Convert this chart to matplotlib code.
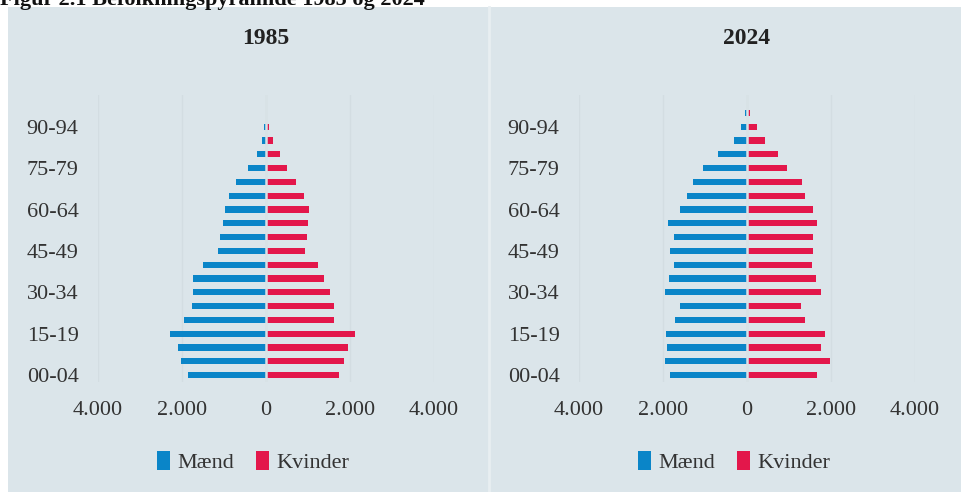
import matplotlib
matplotlib.use("Agg")
import matplotlib.pyplot as plt
from matplotlib.patches import Rectangle, Patch

age_groups = ["00-04", "05-09", "10-14", "15-19", "20-24", "25-29", "30-34", "35-39",
              "40-44", "45-49", "50-54", "55-59", "60-64", "65-69", "70-74", "75-79",
              "80-84", "85-89", "90-94", "95+"]
tick_labels = ["00-04", "15-19", "30-34", "45-49", "60-64", "75-79", "90-94"]

men_1985 = [1865, 2032, 2103, 2278, 1952, 1770, 1746, 1738, 1492, 1143,
            1095, 1015, 975, 890, 715, 430, 222, 95, 40, 4]
women_1985 = [1738, 1865, 1960, 2127, 1619, 1619, 1516, 1389, 1230, 937,
              970, 1000, 1030, 905, 705, 500, 325, 165, 60, 6]
men_2024 = [1825, 1950, 1905, 1930, 1720, 1590, 1950, 1865, 1750, 1825,
            1750, 1880, 1590, 1430, 1295, 1040, 690, 310, 135, 45]
women_2024 = [1655, 1970, 1760, 1865, 1370, 1290, 1760, 1640, 1545, 1560,
              1560, 1655, 1560, 1385, 1305, 960, 735, 440, 240, 80]

x_ticks = [-4000, -2000, 0, 2000, 4000]
x_ticklabels = ["4.000", "2.000", "0", "2.000", "4.000"]

BG = "#dbe5ea"
BLUE = "#0a85c8"
RED = "#e3174b"
GRID = "#d3dde2"
TXT = "#333333"
SERIF = ["Liberation Serif", "DejaVu Serif"]

fig = plt.figure(figsize=(9.61, 4.92), dpi=100)
fig.patch.set_facecolor("white")

W, H = 961, 492
fig.patches.append(Rectangle((8 / W, 0), 1 - 8 / W, 1 - 7 / H, transform=fig.transFigure,
                             facecolor=BG, edgecolor="none", zorder=-10))
fig.lines.append(plt.Line2D([489 / W, 489 / W], [0, 1 - 7 / H], transform=fig.transFigure,
                            color="#e8eef1", lw=2, zorder=-9))

fig.text(0.0, 1 - 5 / H, "Figur 2.1 Befolkningspyramide 1985 og 2024", ha="left", va="baseline",
         fontsize=16, fontweight="bold", family=SERIF, color="#111111")

panels = [("1985", men_1985, women_1985, 98), ("2024", men_2024, women_2024, 579)]
ypos = list(range(len(age_groups)))
tick_pos = [age_groups.index(t) for t in tick_labels]

for title, men, women, left_px in panels:
    ax = fig.add_axes([left_px / W, 1 - 382 / H, 336 / W, (382 - 95) / H])
    ax.set_facecolor("none")
    ax.set_zorder(2)
    ax.barh(ypos, [-m for m in men], height=0.45, color=BLUE, zorder=2)
    ax.barh(ypos, women, height=0.45, color=RED, zorder=2)
    ax.set_xlim(-4000, 4000)
    ax.set_ylim(-0.5, 20.3)
    for xv in x_ticks:
        ax.axvline(xv, color=GRID if xv != 0 else "#d8e2e6", lw=1.0 if xv != 0 else 1.8,
                   zorder=3 if xv == 0 else 1)
    ax.set_xticks(x_ticks)
    ax.set_xticklabels(x_ticklabels, family=SERIF, fontsize=16, color=TXT)
    ax.set_yticks(tick_pos)
    ax.set_yticklabels(tick_labels, family=SERIF, fontsize=16, color=TXT)
    ax.tick_params(axis="both", length=0)
    ax.tick_params(axis="x", pad=14)
    ax.tick_params(axis="y", pad=14)
    for s in ax.spines.values():
        s.set_visible(False)
    fig.text((left_px + 168) / W, 1 - 38 / H, title, ha="center", va="center",
             fontsize=17, fontweight="bold", family=SERIF, color="#222222")
    handles = [Patch(facecolor=BLUE, edgecolor="none", label="Mænd"),
               Patch(facecolor=RED, edgecolor="none", label="Kvinder")]
    leg = fig.legend(handles=handles, loc="center", bbox_to_anchor=((left_px + 155) / W, 1 - 462 / H),
                     ncol=2, frameon=False, prop={"family": SERIF, "size": 16},
                     handlelength=0.6, handleheight=0.9, handletextpad=0.3, columnspacing=1.0,
                     labelcolor=TXT)

fig.savefig("out.png", dpi=100, facecolor=fig.get_facecolor())
